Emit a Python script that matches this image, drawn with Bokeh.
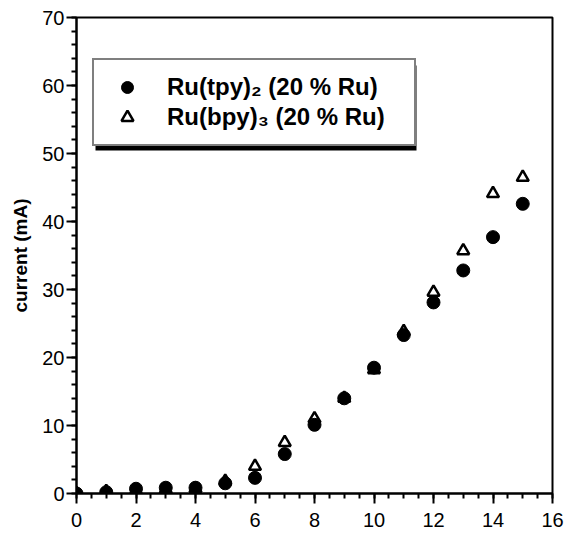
from bokeh.plotting import figure
from bokeh.models import (ColumnDataSource, Legend, LegendItem, SingleIntervalTicker,
                          Range1d, BoxAnnotation)
from bokeh.embed import file_html
from bokeh.resources import INLINE

# ---- data ----
x_vals = [0, 1, 2, 3, 4, 5, 6, 7, 8, 9, 10, 11, 12, 13, 14, 15]
tpy_current = [0, 0.2, 0.7, 0.85, 0.85, 1.5, 2.3, 5.8, 10.1, 14.0, 18.5, 23.3, 28.1, 32.8, 37.7, 42.6]
bpy_current = [0, 0.3, 0.4, 0.6, 0.7, 1.8, 4.0, 7.5, 11.0, 14.0, 18.2, 23.8, 29.6, 35.7, 44.1, 46.5]
series_labels = ["Ru(tpy)\u2082 (20 % Ru)", "Ru(bpy)\u2083 (20 % Ru)"]
y_label = "current (mA)"

FONT = "Liberation Sans"

p = figure(width=566, height=533, output_backend="svg", toolbar_location=None,
           x_range=Range1d(0, 16), y_range=Range1d(0, 70),
           min_border_left=76, min_border_right=14, min_border_top=17, min_border_bottom=40)
p.xgrid.visible = False
p.ygrid.visible = False
p.outline_line_color = "black"
p.outline_line_width = 2
p.outline_line_alpha = 1.0
p.background_fill_color = "white"
p.border_fill_color = "white"

src_t = ColumnDataSource(dict(x=x_vals, y=tpy_current))
src_b = ColumnDataSource(dict(x=x_vals, y=bpy_current))

r_b = p.scatter("x", "y", source=src_b, marker="triangle", size=12,
                fill_color="white", line_color="black", line_width=2.5)
r_t = p.scatter("x", "y", source=src_t, marker="circle", size=13,
                fill_color="black", line_color="black")

# axes
for ax in (p.xaxis[0], p.yaxis[0]):
    ax.axis_line_width = 2
    ax.axis_line_color = "black"
    ax.major_tick_line_width = 2
    ax.minor_tick_line_width = 2
    ax.major_tick_in = 0
    ax.minor_tick_in = 0
    ax.major_tick_out = 10
    ax.minor_tick_out = 5
    ax.major_label_text_font = FONT
    ax.major_label_text_font_size = "20px"
    ax.major_label_text_color = "black"

p.xaxis.ticker = SingleIntervalTicker(interval=2, num_minor_ticks=4)
p.yaxis.ticker = SingleIntervalTicker(interval=10, num_minor_ticks=5)
p.xaxis.major_label_standoff = 9
p.yaxis.major_label_standoff = 2
p.yaxis.axis_label = y_label
p.yaxis.axis_label_text_font = FONT
p.yaxis.axis_label_text_font_style = "bold"
p.yaxis.axis_label_text_font_size = "19px"
p.yaxis.axis_label_text_color = "black"
p.yaxis.axis_label_standoff = 8

# drop shadow behind the legend box (screen units, relative to frame bottom-left)
shadow = BoxAnnotation(left=19, right=340, bottom=343, top=428,
                       left_units="screen", right_units="screen",
                       top_units="screen", bottom_units="screen",
                       fill_color="black", fill_alpha=1.0, line_color=None)
p.add_layout(shadow)

items = [LegendItem(label=series_labels[0], renderers=[r_t]),
         LegendItem(label=series_labels[1], renderers=[r_b])]
lg = Legend(items=items, location=(16, 347), orientation="vertical",
            padding=12, spacing=0, margin=0,
            glyph_width=42, glyph_height=30, label_height=30,
            label_standoff=19, label_width=235,
            label_text_font=FONT, label_text_font_style="bold",
            label_text_font_size="24px", label_text_color="black",
            border_line_color="black", border_line_width=2,
            background_fill_color="white", background_fill_alpha=1.0)
p.add_layout(lg)

open("out.html", "w").write(file_html(p, INLINE))
